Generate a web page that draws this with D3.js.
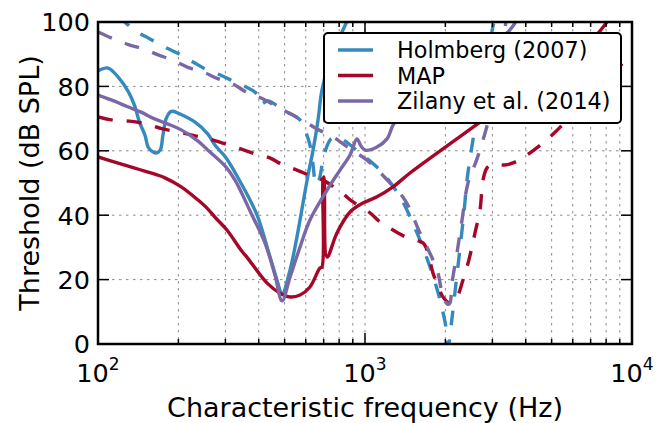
<!DOCTYPE html>
<html><head><meta charset="utf-8">
<script src="https://cdn.jsdelivr.net/npm/d3@7"></script>
<style>body{margin:0;background:#fff}</style>
</head><body>
<svg id="c" width="665" height="423"></svg>
<script>
// ---- data (frequency in Hz, threshold in dB SPL) ----
const xTicks = [100, 1000, 10000];
const xTickExp = ["2", "3", "4"];
const yTicks = [0, 20, 40, 60, 80, 100];
const seriesNames = ["Holmberg (2007)", "MAP", "Zilany et al. (2014)"];
const seriesColors = ["#348ABD", "#A60628", "#7A68A6"];

const holmbergSolid = [[100,84.8],[109,85.7],[119,82.9],[130,78.3],[137,74.1],[143,68.9],[150,64.8],[154,61.2],[159,59.9],[165,59.3],[171,60.2],[175,64.8],[180,70.0],[186,72.0],[191,72.3],[202,71.5],[231,68.9],[258,65.2],[274,61.8],[302,57.8],[343,50.0],[371,44.7],[397,39.4],[441,27.0],[468,19.9],[489,15.5],[524,23.0],[556,33.2],[586,43.8],[612,52.5],[639,60.2],[667,69.6],[690,78.9],[739,88.2],[827,97.5],[870,101.5]];

const holmbergDashed = [[119,102],[126,100],[139,97.1],[156,94.8],[178,92.2],[200,90.2],[227,87.6],[251,85.5],[290,83.4],[316,81.9],[359,79.8],[386,78.3],[400,76.7],[406,74.5],[433,75.5],[464,74.2],[493,72.7],[571,69.6],[596,66.5],[622,61.8],[639,55.6],[655,49.4],[673,50.9],[696,57.1],[721,61.5],[746,63.7],[785,64.3],[842,63.0],[958,59.3],[1138,54.0],[1352,45.7],[1566,34.5],[1752,23.9],[1910,13.7],[2028,3.4],[2050,-1],[2118,8.1],[2192,18.9],[2269,29.8],[2349,41.0],[2410,50.9],[2495,59.6],[2650,72.7],[2815,85.1],[3042,100],[3100,102]];

const mapSolid = [[100,58.1],[119,56.2],[154,53.4],[178,51.6],[205,48.8],[237,44.7],[256,42.2],[274,39.4],[304,35.4],[343,29.2],[361,27.0],[430,18.9],[480,15.8],[524,14.6],[571,15.2],[622,17.7],[678,23.6],[690,23.9],[696,50.9],[702,51.9],[721,27.0],[785,34.5],[879,41.0],[983,43.8],[1109,45.7],[1273,48.8],[1474,53.1],[2696,68.9],[4524,82.6],[6962,93.8],[8061,100],[8300,101.5]];

const mapDashed = [[100,70.5],[114,69.5],[131,69.2],[150,68.4],[173,66.9],[200,65.8],[227,64.8],[258,63.8],[298,62.2],[334,60.9],[386,59.1],[440,57.8],[493,55.6],[556,54.0],[639,51.9],[696,50.9],[820,46.9],[902,44.1],[1044,40.7],[1138,37.9],[1273,35.4],[1449,32.9],[1649,31.4],[1707,29.2],[1798,22.0],[1861,18.9],[1960,14.6],[2082,12.7],[2211,14.6],[2328,19.9],[2410,23.9],[2516,30.1],[2582,34.5],[2696,41.6],[2767,50.9],[2864,54.7],[3016,55.9],[3344,55.6],[3645,56.5],[4044,58.7],[4930,64.3],[5710,69.6],[6555,75.8],[8061,82.9],[9828,89.1],[10000,89.8]];

const zilanySolid = [[100,77.3],[112,75.8],[130,73.6],[145,72.0],[163,69.9],[183,68.3],[205,66.5],[237,63.0],[258,60.2],[299,55.3],[326,50.9],[374,40.7],[422,31.4],[460,21.4],[489,13.4],[524,20.8],[571,30.1],[622,38.5],[721,47.8],[806,54.0],[879,58.7],[933,63.7],[966,61.5],[1000,60.2],[1109,61.2],[1209,63.7],[1273,68.0],[1318,69.6],[1412,74.2],[1607,80.4],[1910,86.6],[2474,92.9],[3204,95.7],[3402,96.6],[3700,100.5]];

const zilanyDashed = [[100,96.9],[114,94.8],[130,93.0],[147,91.7],[168,89.8],[191,88.1],[217,85.9],[247,84.5],[281,82.4],[320,80.8],[358,78.3],[408,76.4],[493,72.7],[571,69.9],[661,66.8],[759,64.3],[879,60.6],[1017,57.1],[1241,50.0],[1412,44.7],[1607,34.5],[1798,26.1],[1877,22.0],[1943,15.8],[2000,13.2],[2050,12.3],[2082,12.8],[2118,18.9],[2211,28.3],[2309,38.5],[2431,50.0],[2627,57.5],[2889,68.9],[3122,82.0],[3288,92.9],[3373,100],[3400,101]];

// ---- layout ----
const svg = d3.select("#c");
const L = 98, R = 632, T = 22, B = 344;
const x = d3.scaleLog().domain([100, 10000]).range([L, R]);
const y = d3.scaleLinear().domain([0, 100]).range([B, T]);
const font = "DejaVu Sans, sans-serif";

const minorX = [];
[100, 1000].forEach(d => { for (let k = 2; k <= 9; k++) minorX.push(d * k); });

// grid
const grid = svg.append("g").attr("stroke", "#8a8a8a").attr("stroke-width", 1).attr("stroke-dasharray", "2.5,4.5");
minorX.concat([1000]).forEach(f => grid.append("line").attr("x1", x(f)).attr("x2", x(f)).attr("y1", T).attr("y2", B));
yTicks.slice(1, -1).forEach(v => grid.append("line").attr("x1", L).attr("x2", R).attr("y1", y(v)).attr("y2", y(v)));

// clip
svg.append("clipPath").attr("id", "clip").append("rect").attr("x", L).attr("y", T).attr("width", R - L).attr("height", B - T);

const line = d3.line().x(d => x(d[0])).y(d => y(d[1])).curve(d3.curveCatmullRom.alpha(0.5));
const series = [
  {data: holmbergSolid, c: 0, dash: null},
  {data: holmbergDashed, c: 0, dash: "15,14"},
  {data: mapSolid, c: 1, dash: null},
  {data: mapDashed, c: 1, dash: "15,14"},
  {data: zilanySolid, c: 2, dash: null},
  {data: zilanyDashed, c: 2, dash: "15,14"}
];
const gl = svg.append("g").attr("clip-path", "url(#clip)");
series.forEach(s => {
  gl.append("path").attr("d", line(s.data)).attr("fill", "none")
    .attr("stroke", seriesColors[s.c]).attr("stroke-width", 3.4)
    .attr("stroke-linejoin", "round")
    .attr("stroke-dasharray", s.dash);
});

// ticks (inward on all sides)
const tk = svg.append("g").attr("stroke", "#000").attr("stroke-width", 1.5);
xTicks.forEach(f => {
  tk.append("line").attr("x1", x(f)).attr("x2", x(f)).attr("y1", B).attr("y2", B - 11);
  tk.append("line").attr("x1", x(f)).attr("x2", x(f)).attr("y1", T).attr("y2", T + 11);
});
minorX.forEach(f => {
  tk.append("line").attr("x1", x(f)).attr("x2", x(f)).attr("y1", B).attr("y2", B - 5);
  tk.append("line").attr("x1", x(f)).attr("x2", x(f)).attr("y1", T).attr("y2", T + 5);
});
yTicks.forEach(v => {
  tk.append("line").attr("x1", L).attr("x2", L + 11).attr("y1", y(v)).attr("y2", y(v));
  tk.append("line").attr("x1", R).attr("x2", R - 11).attr("y1", y(v)).attr("y2", y(v));
});

// frame
svg.append("rect").attr("x", L).attr("y", T).attr("width", R - L).attr("height", B - T)
  .attr("fill", "none").attr("stroke", "#000").attr("stroke-width", 2.5);

// tick labels
yTicks.forEach(v => {
  svg.append("text").attr("x", L - 8).attr("y", y(v) + 9.3).attr("text-anchor", "end")
    .attr("font-family", font).attr("font-size", 25.5).attr("fill", "#000").text(v);
});
xTicks.forEach((f, i) => {
  const t = svg.append("text").attr("x", x(f)).attr("y", 382).attr("text-anchor", "middle")
    .attr("font-family", font).attr("font-size", 25.5).attr("fill", "#000");
  t.append("tspan").text("10");
  t.append("tspan").attr("dy", -12).attr("font-size", 17).text(xTickExp[i]);
});

// axis labels
svg.append("text").attr("x", (L + R) / 2).attr("y", 417).attr("text-anchor", "middle")
  .attr("font-family", font).attr("font-size", 27).attr("fill", "#000").text("Characteristic frequency (Hz)");
svg.append("text").attr("transform", `translate(39,${(T + B) / 2}) rotate(-90)`).attr("text-anchor", "middle")
  .attr("font-family", font).attr("font-size", 27).attr("fill", "#000").text("Threshold (dB SPL)");

// legend
const lg = svg.append("g");
lg.append("rect").attr("x", 324).attr("y", 33).attr("width", 297).attr("height", 90).attr("rx", 4)
  .attr("fill", "#fff").attr("stroke", "#000").attr("stroke-width", 2);
seriesNames.forEach((n, i) => {
  const ly = 50 + i * 25.5;
  lg.append("line").attr("x1", 338).attr("x2", 373).attr("y1", ly).attr("y2", ly)
    .attr("stroke", seriesColors[i]).attr("stroke-width", 3.4);
  lg.append("text").attr("x", 397).attr("y", ly + 8).attr("font-family", font).attr("font-size", 22.3)
    .attr("fill", "#000").text(n);
});
</script>
</body></html>
